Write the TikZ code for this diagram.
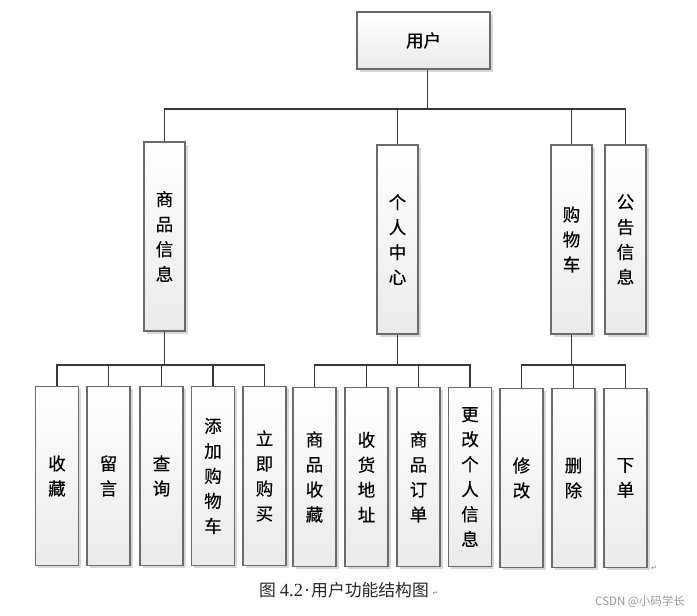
\documentclass[tikz,border=0pt]{standalone}
\usepackage{fontspec}
\newfontfamily\cjk[FakeBold=0.4]{Noto Sans CJK SC}
\newfontfamily\cjklight{Noto Sans CJK SC}
\newfontfamily\latinserif{Liberation Serif}
\newfontfamily\symfont{DejaVu Sans}
\usetikzlibrary{shadows}

\begin{document}
\begin{tikzpicture}[x=1pt, y=-1pt,
  box/.style={draw=black!58, line width=1.1pt, top color=white, bottom color=black!8,
    drop shadow={shadow xshift=2.5pt, shadow yshift=-2.5pt, fill=black!30, opacity=0.5},
    inner sep=0pt, align=center, font=\cjk\fontsize{17.5}{25}\selectfont},
  tall/.style={box, minimum width=41pt, minimum height=189pt},
  leaf/.style={box, minimum width=43pt, minimum height=179pt},
  link/.style={draw=black!78, line width=1.5pt}]
  \useasboundingbox (0,0) rectangle (697,616);

  % Root
  \node[box, minimum width=133pt, minimum height=57pt] (user) at (423.5,40.5) {用户};

  % Second level
  \node[tall] (info)   at (164.5,236.5) {商\\品\\信\\息};
  \node[tall] (center) at (397.5,239.5) {个\\人\\中\\心};
  \node[tall] (cart)   at (571.5,239.5) {购\\物\\车};
  \node[tall] (notice) at (625.5,239.5) {公\\告\\信\\息};

  % Leaves under 商品信息
  \node[leaf] (fav)   at (57,476)    {收\\藏};
  \node[leaf] (msg)   at (108.5,476) {留\\言};
  \node[leaf] (query) at (161.5,476) {查\\询};
  \node[leaf] (add)   at (213,476)   {添\\加\\购\\物\\车};
  \node[leaf] (buy)   at (264.5,476) {立\\即\\购\\买};

  % Leaves under 个人中心
  \node[leaf] (mfav)  at (314.5,477) {商\\品\\收\\藏};
  \node[leaf] (addr)  at (366.5,477) {收\\货\\地\\址};
  \node[leaf] (order) at (418.5,477) {商\\品\\订\\单};
  \node[leaf] (edit)  at (470,477)   {更\\改\\个\\人\\信\\息};

  % Leaves under 购物车
  \node[leaf] (modify) at (521.5,478) {修\\改};
  \node[leaf] (remove) at (573.5,478) {删\\除};
  \node[leaf] (place)  at (625.5,478) {下\\单};

  % Buses
  \coordinate (bus0) at (0,109);
  \coordinate (bus1) at (0,365);

  \draw[link] ([xshift=4pt]user.south) -- ([xshift=4pt]user.south |- bus0);
  \draw[link] (info.north) -- (info.north |- bus0) -- (notice.north |- bus0) -- (notice.north);
  \foreach \n in {center, cart}
    \draw[link] (\n.north) -- (\n.north |- bus0);

  \draw[link] (info.south) -- (info.south |- bus1);
  \draw[link] (fav.north) -- (fav.north |- bus1) -- (buy.north |- bus1) -- (buy.north);
  \foreach \n in {msg, query, add}
    \draw[link] (\n.north) -- (\n.north |- bus1);

  \draw[link] (center.south) -- (center.south |- bus1);
  \draw[link] (mfav.north) -- (mfav.north |- bus1) -- (edit.north |- bus1) -- (edit.north);
  \foreach \n in {addr, order}
    \draw[link] (\n.north) -- (\n.north |- bus1);

  \draw[link] (cart.south) -- (cart.south |- bus1);
  \draw[link] (modify.north) -- (modify.north |- bus1) -- (place.north |- bus1) -- (place.north);
  \draw[link] (remove.north) -- (remove.north |- bus1);

  % Caption and marks
  \node[font=\cjklight\fontsize{16.8}{16.8}\selectfont, text=black!85] (caption) at (344,590)
    {图\hspace{4pt}{\latinserif\fontsize{18.5}{18.5}\selectfont 4.2\hspace{1pt}·\hspace{1pt}}用户功能结构图};
  \node[anchor=west, inner sep=0pt, font=\symfont\fontsize{7}{7}\selectfont, text=black!50] (mark1) at ([yshift=-3pt]caption.east) {↵};
  \node[inner sep=0pt, font=\symfont\fontsize{7}{7}\selectfont, text=black!50] (mark2) at (654,568) {↵};
  \node[font=\cjklight\fontsize{11.5}{11.5}\selectfont, text=black!40] (wm) at (640,602) {CSDN @小码学长};
\end{tikzpicture}
\end{document}
